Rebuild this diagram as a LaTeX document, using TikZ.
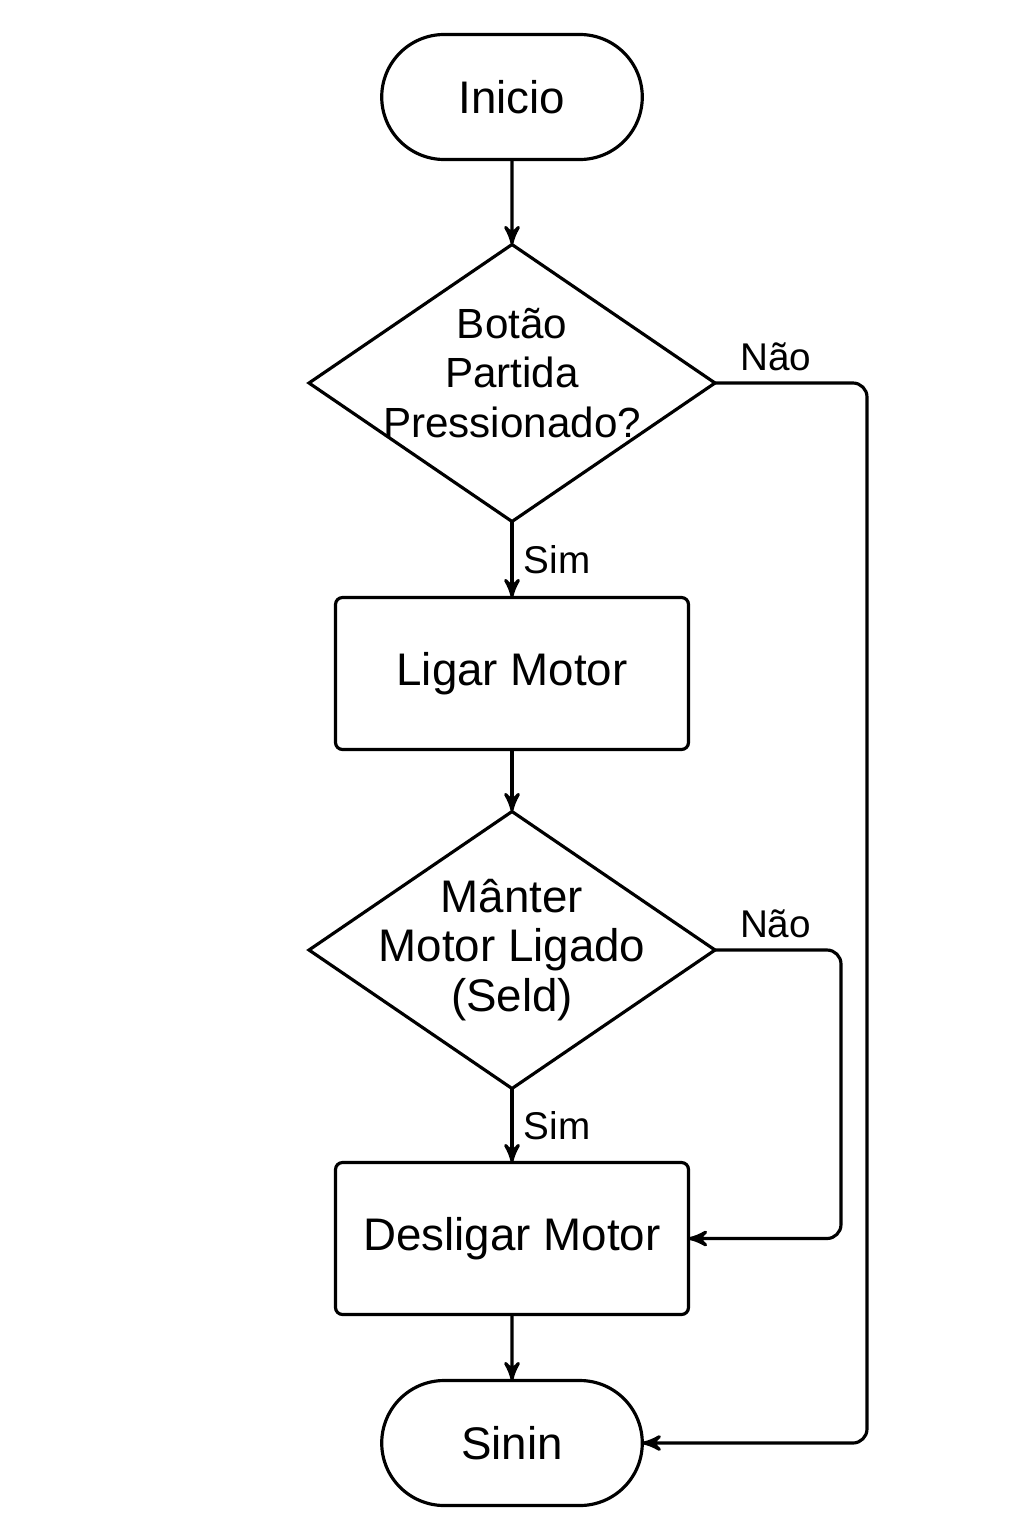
\documentclass[tikz,border=0pt]{standalone}
\usepackage{fontspec}
\setmainfont{Liberation Sans}
\usetikzlibrary{shapes.misc,shapes.geometric,positioning,arrows}

\begin{document}
\begin{tikzpicture}[->,>=stealth',line width=0.9pt,align=center,node distance=8mm,font=\fontsize{13}{14.2}\selectfont,
	every node/.style={outer sep=0pt},
	term/.style={rounded rectangle,draw,minimum width=2.84cm,minimum height=1.25cm},
	proc/.style={rectangle,draw,rounded corners=2pt,minimum width=3.53cm,minimum height=1.52cm},
	decision/.style={diamond,draw,minimum width=4.06cm,minimum height=2.77cm,inner sep=0pt},
	lbl/.style={font=\fontsize{11}{13}\selectfont}]
	\useasboundingbox (0,0) rectangle (10.24,-15.36);
	\node[term] (ini) at (5.12,-0.97) {Inicio};
	\node[decision,below=0.85cm of ini,label={[align=center,yshift=0.1cm,font=\fontsize{12}{14.2}\selectfont]center:{Botão\\Partida\\Pressionado?}}] (q1) {};
	\node[proc,below=0.76cm of q1] (on) {Ligar Motor};
	\node[decision,below=0.62cm of on,label={[align=center]center:{Mânter\\Motor Ligado\\(Seld)}}] (q2) {};
	\node[proc,below=0.74cm of q2] (off) {Desligar Motor};
	\node[term,below=0.66cm of off] (fim) {Sinin};
	\draw (ini) -- (q1);
	\draw (q1) -- node[midway,right,lbl] {Sim} (on);
	\draw (on) -- (q2);
	\draw (q2) -- node[midway,right,lbl] {Sim} (off);
	\draw (off) -- (fim);
	\draw[rounded corners=4pt] (q1.east) -- ++(1.52,0) node[pos=0.4,above,lbl] {Não} |- (fim.east);
	\draw[rounded corners=4pt] (q2.east) -- ++(1.26,0) node[pos=0.48,above,lbl] {Não} |- (off.east);
\end{tikzpicture}
\end{document}
